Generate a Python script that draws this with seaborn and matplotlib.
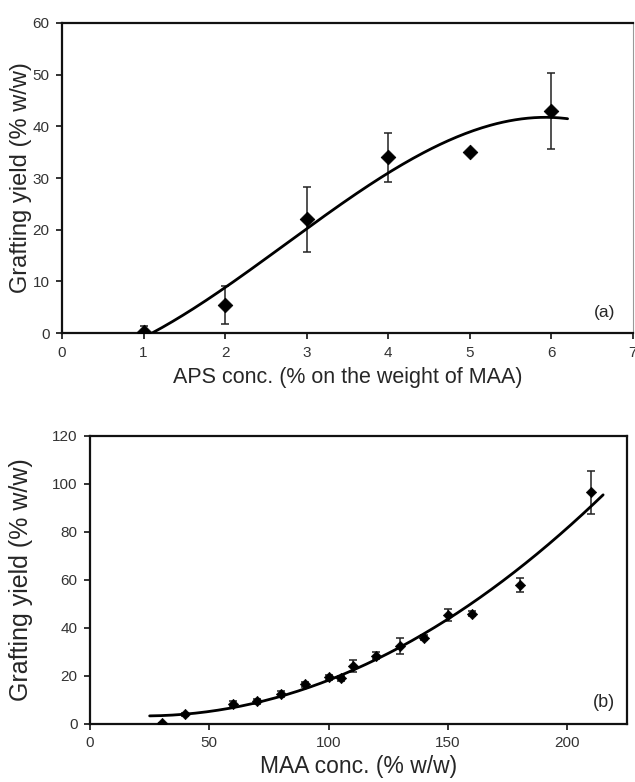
import matplotlib
matplotlib.use("Agg")
import matplotlib.pyplot as plt
import numpy as np
import pandas as pd
import seaborn as sns
from matplotlib import font_manager

sns.set_theme(style="ticks")
plt.rcParams["font.family"] = ["Liberation Sans", "DejaVu Sans"]

# condensed face for tick numbers if present
names = {f.name for f in font_manager.fontManager.ttflist}
tick_family = "Liberation Sans Narrow" if "Liberation Sans Narrow" in names else "Liberation Sans"

# panel (a): APS concentration
aps_conc = [1, 2, 3, 4, 5, 6]
aps_yield = [0.3, 5.5, 22.0, 34.0, 35.0, 43.0]
aps_err = [1.0, 3.7, 6.3, 4.8, 0.0, 7.3]

# panel (b): MAA concentration
maa_conc = [30, 40, 60, 70, 80, 90, 100, 105, 110, 120, 130, 140, 150, 160, 180, 210]
maa_yield = [0.3, 4.0, 8.5, 9.5, 12.5, 16.5, 19.5, 19.0, 24.0, 28.5, 32.5, 36.0, 45.5, 46.0, 58.0, 96.5]
maa_err = [0.0, 0.5, 1.0, 1.0, 1.2, 1.0, 1.0, 1.0, 2.5, 1.5, 3.5, 1.0, 2.5, 1.0, 3.0, 9.0]

df_a = pd.DataFrame({"x": aps_conc, "y": aps_yield, "e": aps_err})
df_b = pd.DataFrame({"x": maa_conc, "y": maa_yield, "e": maa_err})

# polynomial trendlines fitted to the data
fit_a = np.polyfit(df_a.x, df_a.y, 3)
xa = np.linspace(1.1, 6.2, 200)
curve_a = pd.DataFrame({"x": xa, "y": np.polyval(fit_a, xa)})
fit_b = np.polyfit(df_b.x, df_b.y, 2)
xb = np.linspace(25, 215, 200)
curve_b = pd.DataFrame({"x": xb, "y": np.polyval(fit_b, xb)})

fig = plt.figure(figsize=(6.35, 7.82), dpi=100)
ax1 = fig.add_axes([0.0976, 0.574, 0.899, 0.3966])
ax2 = fig.add_axes([0.1417, 0.0742, 0.8457, 0.3683])

for ax, df, curve, ms in [(ax1, df_a, curve_a, 55), (ax2, df_b, curve_b, 28)]:
    ax.errorbar(df.x, df.y, yerr=df.e, fmt="none", ecolor="#222222", elinewidth=1.1, capsize=3, capthick=1.1, zorder=2)
    sns.lineplot(data=curve, x="x", y="y", color="black", linewidth=2, ax=ax, zorder=3)
    sns.scatterplot(data=df, x="x", y="y", marker="D", s=ms, color="black", edgecolor="black", ax=ax, zorder=4)
    for s in ax.spines.values():
        s.set_linewidth(1.6)
        s.set_color("#111111")
    ax.tick_params(direction="out", length=4, width=1.2, labelsize=11, colors="#111111", labelcolor="#333333", pad=5)

# right edge of the top frame is thin and light
ax1.spines["right"].set_linewidth(0.8)
ax1.spines["right"].set_color("#999999")

ax1.set_xlim(0, 7)
ax1.set_ylim(0, 60)
ax1.set_xticks(range(0, 8))
ax1.set_yticks(range(0, 61, 10))
for lab in ax1.get_xticklabels() + ax1.get_yticklabels():
    lab.set_family(tick_family)
ax1.set_xlabel("APS conc. (% on the weight of MAA)", fontsize=15.5, labelpad=5)
ax1.set_ylabel("Grafting yield (% w/w)", fontsize=17)
ax1.yaxis.set_label_coords(-0.052, 0.5)
ax1.text(0.951, 0.068, "(a)", transform=ax1.transAxes, fontsize=12.5, ha="center", va="center")

ax2.set_xlim(0, 225)
ax2.set_ylim(0, 120)
ax2.set_xticks(range(0, 201, 50))
ax2.set_yticks(range(0, 121, 20))
for lab in ax2.get_xticklabels() + ax2.get_yticklabels():
    lab.set_family(tick_family)
ax2.set_xlabel("MAA conc. (% w/w)", fontsize=16.5, labelpad=3)
ax2.set_ylabel("Grafting yield (% w/w)", fontsize=18)
ax2.yaxis.set_label_coords(-0.106, 0.5)
ax2.text(0.957, 0.076, "(b)", transform=ax2.transAxes, fontsize=13, ha="center", va="center")

fig.savefig("out.png", dpi=100)
